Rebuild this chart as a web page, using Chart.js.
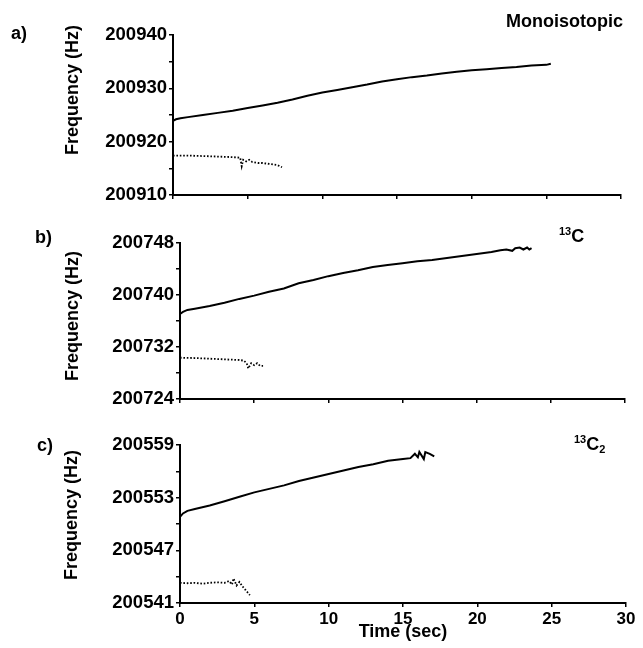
<!DOCTYPE html>
<html>
<head>
<meta charset="utf-8">
<script src="https://cdn.jsdelivr.net/npm/chart.js@4/dist/chart.umd.min.js"></script>
<style>
  body { margin: 0; background: #fff; }
  #wrap { position: relative; width: 643px; height: 648px; font-family: "Liberation Sans", Arial, sans-serif; font-weight: bold; color: #000; }
  canvas { position: absolute; left: 0; }
  .lbl { position: absolute; font-size: 18px; line-height: 18px; white-space: nowrap; }
  .ytitle { position: absolute; font-size: 18px; line-height: 18px; white-space: nowrap; transform: translate(-50%, -50%) rotate(-90deg); }
  .sup { font-size: 11px; line-height: 0; vertical-align: 7px; }
  .sub { font-size: 11px; line-height: 0; vertical-align: -3px; }
</style>
</head>
<body>
<div id="wrap">
  <canvas id="chartA" width="643" height="210" style="top:0px"></canvas>
  <canvas id="chartB" width="643" height="205" style="top:210px"></canvas>
  <canvas id="chartC" width="643" height="233" style="top:415px"></canvas>

  <div class="lbl" style="left:11px;top:24px">a)</div>
  <div class="lbl" style="left:35px;top:228px">b)</div>
  <div class="lbl" style="left:37px;top:436px">c)</div>
  <div class="lbl" style="left:506px;top:12px">Monoisotopic</div>
  <div class="lbl" style="left:559px;top:227px"><span class="sup">13</span>C</div>
  <div class="lbl" style="left:574px;top:435px"><span class="sup">13</span>C<span class="sub">2</span></div>
  <div class="ytitle" style="left:72px;top:90px">Frequency (Hz)</div>
  <div class="ytitle" style="left:72px;top:316px">Frequency (Hz)</div>
  <div class="ytitle" style="left:71px;top:515px">Frequency (Hz)</div>
</div>

<script>
// time axis (sec), shared by the three panels
var timeTicks = [0, 5, 10, 15, 20, 25, 30];

// a) monoisotopic
var timeA = [0, 0.2, 0.5, 1, 2, 3, 4, 5, 6, 7, 8, 9, 10, 11, 12, 13, 14, 15, 16, 17, 18, 19, 20, 21, 22, 23, 24, 25, 25.3];
var freqA = [200923.9, 200924.2, 200924.4, 200924.6, 200925.0, 200925.4, 200925.8, 200926.3, 200926.8, 200927.3,
             200927.9, 200928.6, 200929.2, 200929.7, 200930.2, 200930.7, 200931.3, 200931.7, 200932.1, 200932.4,
             200932.8, 200933.1, 200933.4, 200933.6, 200933.8, 200934.0, 200934.3, 200934.4, 200934.6];
var timeAdot = [0, 1, 2, 3, 4, 4.5, 4.6, 4.7, 4.9, 5.1, 5.3, 5.7, 6.0, 6.5, 7.0, 7.3];
var freqAdot = [200917.4, 200917.4, 200917.3, 200917.2, 200917.1, 200917.0, 200915.4, 200916.6, 200916.3, 200916.6,
                200916.2, 200916.0, 200916.0, 200915.8, 200915.6, 200915.2];
var yTicksA = [200910, 200915, 200920, 200925, 200930, 200935, 200940];
var yLabelsA = [200910, 200920, 200930, 200940];

// b) 13C
var timeB = [0, 0.2, 0.5, 1, 2, 3, 4, 5, 6, 7, 8, 9, 10, 11, 12, 13, 14, 15, 16, 17, 18, 19, 20, 21,
             21.6, 22.0, 22.4, 22.6, 22.9, 23.15, 23.4, 23.55, 23.7];
var freqB = [200737.1, 200737.4, 200737.7, 200737.9, 200738.3, 200738.8, 200739.4, 200739.9, 200740.5, 200741.0,
             200741.8, 200742.3, 200742.9, 200743.4, 200743.8, 200744.3, 200744.6, 200744.9, 200745.2, 200745.4,
             200745.7, 200746.0, 200746.3, 200746.6, 200746.9, 200747.0, 200746.8, 200747.2, 200747.3, 200747.0,
             200747.3, 200747.0, 200747.2];
var timeBdot = [0, 1, 2, 3, 4, 4.3, 4.5, 4.6, 4.8, 5.0, 5.2, 5.4, 5.6];
var freqBdot = [200730.35, 200730.3, 200730.2, 200730.1, 200730.0, 200729.9, 200729.5, 200728.7, 200729.5, 200729.2,
                200729.5, 200729.1, 200729.1];
var yTicksB = [200724, 200728, 200732, 200736, 200740, 200744, 200748];
var yLabelsB = [200724, 200732, 200740, 200748];

// c) 13C2
var timeC = [0, 0.2, 0.5, 1, 2, 3, 4, 5, 6, 7, 8, 9, 10, 11, 12, 13, 14, 15, 15.5, 15.8, 16.0, 16.1, 16.4, 16.5, 16.8, 17.1];
var freqC = [200550.8, 200551.2, 200551.5, 200551.7, 200552.1, 200552.6, 200553.1, 200553.6, 200554.0, 200554.4,
             200554.9, 200555.3, 200555.7, 200556.1, 200556.5, 200556.8, 200557.2, 200557.4, 200557.5, 200558.0,
             200557.6, 200558.2, 200557.4, 200558.2, 200558.0, 200557.7];
var timeCdot = [0, 0.5, 1, 1.5, 2, 2.5, 3, 3.3, 3.5, 3.6, 3.8, 4.0, 4.2, 4.4, 4.55, 4.7];
var freqCdot = [200543.3, 200543.25, 200543.3, 200543.2, 200543.3, 200543.35, 200543.3, 200543.5, 200543.1, 200543.8,
                200543.0, 200543.4, 200542.9, 200542.5, 200542.2, 200541.9];
var yTicksC = [200541, 200544, 200547, 200550, 200553, 200556, 200559];
var yLabelsC = [200541, 200547, 200553, 200559];

Chart.defaults.font.family = '"Liberation Sans", Arial, sans-serif';
Chart.defaults.font.weight = 'bold';
Chart.defaults.color = '#000';

function pts(xs, ys) {
    return xs.map((x, i) => ({ x: x, y: ys[i] }));
}

function makePanel(id, solid, dotted, yTicks, yLabels, box, showX) {
    const ctx = document.getElementById(id).getContext("2d");
    const config = {
        type: "line",
        data: {
            datasets: [
                { data: solid, borderColor: "#000", borderWidth: 2, pointRadius: 0, tension: 0 },
                { data: dotted, borderColor: "#000", borderWidth: 1.8, borderDash: [1.6, 1.8], pointRadius: 0, tension: 0 }
            ]
        },
        options: {
            responsive: false,
            animation: false,
            layout: { padding: { top: box.top, right: box.right, left: 0, bottom: 0 } },
            plugins: { legend: { display: false }, tooltip: { enabled: false } },
            scales: {
                x: {
                    type: "linear",
                    min: timeTicks[0],
                    max: timeTicks[timeTicks.length - 1],
                    afterBuildTicks: s => { s.ticks = timeTicks.map(v => ({ value: v })); },
                    ticks: { display: showX, font: { size: 17 }, padding: 2, maxRotation: 0, autoSkip: false },
                    grid: { drawOnChartArea: false, color: "#000", tickLength: 4, lineWidth: 1.5 },
                    border: { color: "#000", width: 2 },
                    title: { display: showX, text: "Time (sec)", font: { size: 18 }, padding: { top: 0, bottom: 5 } },
                    afterFit: s => { s.height = box.xh; }
                },
                y: {
                    min: yTicks[0],
                    max: yTicks[yTicks.length - 1],
                    afterBuildTicks: s => { s.ticks = yTicks.map(v => ({ value: v })); },
                    ticks: {
                        font: { size: 18.5 },
                        padding: 2,
                        autoSkip: false,
                        callback: v => yLabels.includes(v) ? String(v) : ""
                    },
                    grid: { drawOnChartArea: false, color: "#000", tickLength: 4, lineWidth: 1.5 },
                    border: { color: "#000", width: 2 },
                    afterFit: s => { s.width = box.left; }
                }
            }
        }
    };
    return new Chart(ctx, config);
}

makePanel("chartA", pts(timeA, freqA), pts(timeAdot, freqAdot), yTicksA, yLabelsA,
          { top: 35, right: 22, left: 173, xh: 15 }, false);
makePanel("chartB", pts(timeB, freqB), pts(timeBdot, freqBdot), yTicksB, yLabelsB,
          { top: 33, right: 18, left: 180, xh: 16 }, false);
makePanel("chartC", pts(timeC, freqC), pts(timeCdot, freqCdot), yTicksC, yLabelsC,
          { top: 30, right: 17, left: 180, xh: 45 }, true);
</script>
</body>
</html>
